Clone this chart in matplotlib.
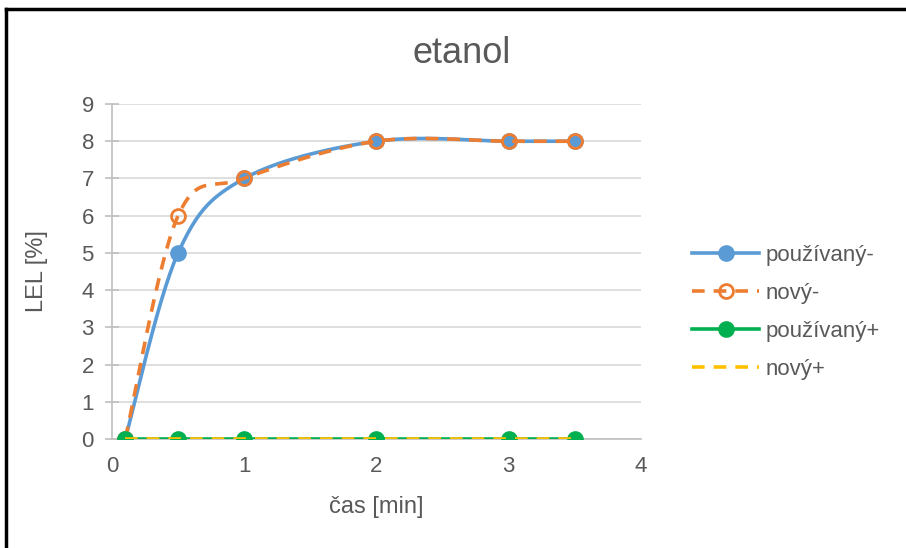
import numpy as np
import matplotlib.pyplot as plt
from matplotlib.lines import Line2D

plt.rcParams['font.family'] = ['Liberation Sans', 'DejaVu Sans']

cas = [0.1, 0.5, 1, 2, 3, 3.5]
pouzivany_minus = [0, 5, 7, 8, 8, 8]
novy_minus = [0, 6, 7, 8, 8, 8]
pouzivany_plus = [0, 0, 0, 0, 0, 0]
novy_plus = [0, 0, 0, 0, 0, 0]

series = [
    ("používaný-", pouzivany_minus, "#5b9bd5", "-", "o", True),
    ("nový-", novy_minus, "#ed7d31", (0, (3.5, 2.5)), "o", False),
    ("používaný+", pouzivany_plus, "#00b050", "-", "o", True),
    ("nový+", novy_plus, "#ffc000", (0, (3.5, 2.5)), None, True),
]


def smooth_path(x, y, steps=30):
    # Catmull-Rom style cubic Bezier through the points
    p = np.column_stack([x, y]).astype(float)
    n = len(p)
    out = [p[0]]
    for i in range(n - 1):
        p0 = p[i - 1] if i > 0 else p[i]
        p1, p2 = p[i], p[i + 1]
        p3 = p[i + 2] if i + 2 < n else p[i + 1]
        c1 = p1 + (p2 - p0) / 6
        c2 = p2 - (p3 - p1) / 6
        t = np.linspace(0, 1, steps)[1:, None]
        seg = ((1 - t) ** 3 * p1 + 3 * (1 - t) ** 2 * t * c1
               + 3 * (1 - t) * t ** 2 * c2 + t ** 3 * p2)
        out.extend(seg)
    out = np.array(out)
    return out[:, 0], out[:, 1]


fig = plt.figure(figsize=(9.06, 5.48), dpi=100)
ax = fig.add_axes([0.1236, 0.1989, 0.5839, 0.6113])

handles = []
for k, (name, vals, color, ls, marker, filled) in enumerate(series):
    sx, sy = smooth_path(cas, vals)
    ax.plot(sx, sy, color=color, lw=2.6, ls=ls, solid_capstyle='round', zorder=3 + k)
    if marker:
        ax.plot(cas, vals, ls='none', marker=marker, ms=10,
                mfc=color if filled else 'none', mec=color, mew=2, zorder=3 + k)
    handles.append(Line2D([], [], color=color, lw=2.6, ls=ls, marker=marker, ms=10,
                          mfc=color if filled else 'none', mec=color, mew=2))

ax.set_xlim(0, 4)
ax.set_ylim(0, 9)
ax.set_xticks(range(0, 5))
ax.set_yticks(range(0, 10))
ax.grid(axis='y', color='#d9d9d9', lw=1.2)
ax.set_axisbelow(True)
for s in ['top', 'right']:
    ax.spines[s].set_visible(False)
for s in ['left', 'bottom']:
    ax.spines[s].set_color('#bfbfbf')
    ax.spines[s].set_linewidth(1.2)
ax.tick_params(axis='y', direction='inout', length=10, color='#bfbfbf', width=1.2,
               labelsize=16, labelcolor='#595959', pad=8)
ax.tick_params(axis='x', direction='inout', length=0, labelsize=16,
               labelcolor='#595959', pad=12)

ax.set_xlabel("čas [min]", fontsize=17, color='#595959', labelpad=14)
ax.set_ylabel("LEL [%]", fontsize=17, color='#595959', labelpad=24)
fig.text(0.509, 0.902, "etanol", fontsize=26, color='#595959', ha='center', va='center')

fig.legend(handles, [s[0] for s in series], loc='center left',
           bbox_to_anchor=(0.742, 0.43), frameon=False, fontsize=16,
           labelcolor='#595959', handlelength=3.0, handletextpad=0.3,
           labelspacing=0.77)

# frame lines along the top and left edge
fig.add_artist(Line2D([0.0066, 1], [0.984, 0.984], color='black', lw=2.5,
                      transform=fig.transFigure))
fig.add_artist(Line2D([0.0066, 0.0066], [0, 0.984], color='black', lw=2.5,
                      transform=fig.transFigure))

fig.savefig("out.png", dpi=100)
